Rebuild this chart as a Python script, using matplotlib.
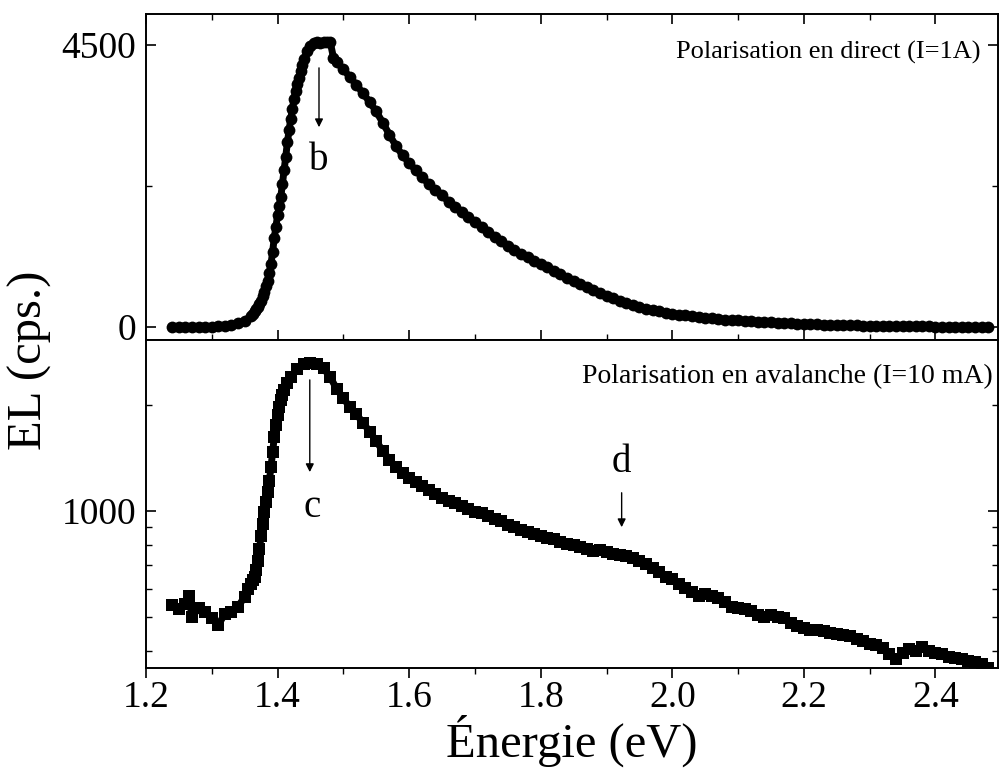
import matplotlib
matplotlib.use("Agg")
import matplotlib.pyplot as plt
from matplotlib.ticker import FixedLocator, MultipleLocator, NullFormatter

plt.rcParams['font.family'] = ['Liberation Serif', 'DejaVu Serif']

# Forward bias (I = 1 A), linear scale
e_direct = [1.24, 1.25, 1.26, 1.27, 1.28, 1.29, 1.30, 1.31, 1.32, 1.33, 1.34, 1.35,
            1.36, 1.3625, 1.365, 1.3675, 1.37, 1.3725, 1.375, 1.3775, 1.38, 1.3825,
            1.385, 1.3875, 1.39, 1.3925, 1.395, 1.3975, 1.40, 1.4025, 1.405, 1.4075,
            1.41, 1.4125, 1.415, 1.4175, 1.42, 1.4225, 1.425, 1.4275, 1.43, 1.4325,
            1.435, 1.4375, 1.44, 1.445, 1.45, 1.455, 1.46, 1.465, 1.47, 1.475, 1.48,
            1.485, 1.49, 1.50, 1.51, 1.52, 1.53, 1.54, 1.55, 1.56, 1.57, 1.58, 1.59,
            1.60, 1.61, 1.62, 1.63, 1.64, 1.65, 1.66, 1.67, 1.68, 1.69, 1.70, 1.71,
            1.72, 1.73, 1.74, 1.75, 1.76, 1.77, 1.78, 1.79, 1.80, 1.81, 1.82, 1.83,
            1.84, 1.85, 1.86, 1.87, 1.88, 1.89, 1.90, 1.91, 1.92, 1.93, 1.94, 1.95,
            1.96, 1.97, 1.98, 1.99, 2.00, 2.01, 2.02, 2.03, 2.04, 2.05, 2.06, 2.07,
            2.08, 2.09, 2.10, 2.11, 2.12, 2.13, 2.14, 2.15, 2.16, 2.17, 2.18, 2.19,
            2.20, 2.21, 2.22, 2.23, 2.24, 2.25, 2.26, 2.27, 2.28, 2.29, 2.30, 2.31,
            2.32, 2.33, 2.34, 2.35, 2.36, 2.37, 2.38, 2.39, 2.40, 2.41, 2.42, 2.43,
            2.44, 2.45, 2.46, 2.47, 2.48]
el_direct = [0, 0, 0, 0, 0, 0, 5, 10, 20, 35, 60, 100,
             180, 215, 250, 285, 320, 370, 420, 490, 560, 650,
             740, 860, 1000, 1200, 1420, 1600, 1780, 1930, 2080, 2290,
             2500, 2720, 2950, 3140, 3320, 3480, 3640, 3760, 3880, 3980,
             4080, 4180, 4270, 4400, 4480, 4530, 4550, 4540, 4545, 4555, 4550,
             4300, 4230, 4110, 3990, 3860, 3730, 3590, 3440, 3260, 3070, 2890, 2740,
             2620, 2500, 2390, 2280, 2190, 2100, 2000, 1920, 1830, 1750, 1670, 1590,
             1510, 1440, 1370, 1300, 1230, 1170, 1110, 1060, 1000, 950, 890, 840,
             790, 740, 690, 640, 590, 545, 500, 460, 420, 385, 350, 320,
             295, 270, 250, 230, 210, 198, 185, 172, 160, 150, 140, 130,
             120, 112, 105, 98, 92, 86, 80, 75, 70, 65, 60, 55,
             50, 46, 42, 38, 35, 32, 30, 27, 25, 22, 20, 19,
             18, 16, 15, 13, 12, 11, 10, 9, 8, 6, 5, 4,
             3, 2, 2, 1, 0]

# Avalanche bias (I = 10 mA), log scale
e_aval = [1.24, 1.25, 1.26, 1.265, 1.27, 1.28, 1.29, 1.30, 1.31, 1.32, 1.33, 1.34,
          1.35, 1.355, 1.36, 1.3625, 1.365, 1.3675, 1.37, 1.3725, 1.375, 1.3775,
          1.38, 1.3825, 1.385, 1.3875, 1.39, 1.3925, 1.395, 1.3975, 1.40, 1.4025,
          1.405, 1.4075, 1.41, 1.415, 1.42, 1.43, 1.44, 1.45, 1.46, 1.47, 1.48,
          1.49, 1.50, 1.51, 1.52, 1.53, 1.54, 1.55, 1.56, 1.57, 1.58, 1.59, 1.60,
          1.61, 1.62, 1.63, 1.64, 1.65, 1.66, 1.67, 1.68, 1.69, 1.70, 1.71, 1.72,
          1.73, 1.74, 1.75, 1.76, 1.77, 1.78, 1.79, 1.80, 1.81, 1.82, 1.83, 1.84,
          1.85, 1.86, 1.87, 1.88, 1.89, 1.90, 1.91, 1.92, 1.93, 1.94, 1.95, 1.96,
          1.97, 1.98, 1.99, 2.00, 2.01, 2.02, 2.03, 2.04, 2.05, 2.06, 2.07, 2.08,
          2.09, 2.10, 2.11, 2.12, 2.13, 2.14, 2.15, 2.16, 2.17, 2.18, 2.19, 2.20,
          2.21, 2.22, 2.23, 2.24, 2.25, 2.26, 2.27, 2.28, 2.29, 2.30, 2.31, 2.32,
          2.33, 2.34, 2.35, 2.36, 2.37, 2.38, 2.39, 2.40, 2.41, 2.42, 2.43, 2.44,
          2.45, 2.46, 2.47, 2.48]
el_aval = [540, 525, 545, 575, 500, 530, 515, 495, 475, 510, 515, 535,
           570, 600, 620, 635, 650, 680, 720, 780, 850, 920,
           990, 1060, 1130, 1220, 1330, 1470, 1620, 1750, 1870, 1970,
           2060, 2130, 2200, 2310, 2400, 2530, 2610, 2640, 2620, 2540, 2400,
           2220, 2090, 1970, 1880, 1780, 1680, 1580, 1480, 1400, 1330, 1280, 1240,
           1210, 1180, 1150, 1120, 1090, 1070, 1050, 1030, 1015, 995, 985, 965,
           950, 935, 915, 900, 885, 870, 860, 850, 840, 830, 815, 805,
           800, 790, 780, 770, 775, 765, 755, 750, 745, 735, 720, 705,
           690, 670, 650, 640, 620, 605, 590, 575, 580, 575, 565, 550,
           535, 530, 525, 520, 505, 500, 505, 500, 495, 480, 470, 465,
           460, 458, 455, 450, 448, 445, 440, 432, 428, 420, 415, 408,
           392, 380, 395, 405, 400, 410, 400, 395, 392, 385, 382, 380,
           375, 372, 368, 358]

fig = plt.figure(figsize=(9.99, 7.75), dpi=100)
ax1 = fig.add_axes([0.1461, 0.5613, 0.8529, 0.4206])
ax2 = fig.add_axes([0.1461, 0.1381, 0.8529, 0.4232], sharex=ax1)

ax1.plot(e_direct, el_direct, '-o', color='black', ms=8.5, mew=0, lw=5)
ax2.plot(e_aval, el_aval, '-s', color='black', ms=8, mew=0, lw=5)

ax1.set_xlim(1.2, 2.495)
ax1.set_ylim(-207, 4995)
ax1.yaxis.set_major_locator(FixedLocator([0, 4500]))
ax1.yaxis.set_minor_locator(FixedLocator([2250]))

ax2.set_yscale('log')
ax2.set_ylim(358, 3060)
ax2.yaxis.set_major_locator(FixedLocator([1000]))
ax2.yaxis.set_minor_locator(FixedLocator([400, 500, 600, 700, 800, 900, 2000]))
ax2.yaxis.set_major_formatter(matplotlib.ticker.FuncFormatter(lambda v, p: f"{v:.0f}"))
ax2.yaxis.set_minor_formatter(NullFormatter())

ax2.xaxis.set_major_locator(MultipleLocator(0.2))
ax2.xaxis.set_minor_locator(MultipleLocator(0.1))
ax2.xaxis.set_major_formatter(matplotlib.ticker.FormatStrFormatter('%.1f'))

for ax in (ax1, ax2):
    for s in ax.spines.values():
        s.set_linewidth(1.4)
    ax.tick_params(which='major', length=7, width=1.2, labelsize=27, pad=7)
    ax.tick_params(which='minor', length=4, width=1.0)
    ax.tick_params(axis='y', which='both', direction='in', right=True)

ax1.tick_params(axis='x', which='both', direction='in', top=True, bottom=True,
                labelbottom=False)
ax2.tick_params(axis='x', which='both', direction='out', top=False, pad=2)

ax1.text(0.979, 0.883, 'Polarisation en direct (I=1A)', transform=ax1.transAxes,
         ha='right', va='center', fontsize=19)
ax2.text(0.994, 0.887, 'Polarisation en avalanche (I=10 mA)', transform=ax2.transAxes,
         ha='right', va='center', fontsize=20)

arrow = dict(arrowstyle='-|>', color='black', lw=1.0, mutation_scale=12)
ax1.annotate('', xy=(1.463, 3144), xytext=(1.463, 4180), arrowprops=arrow)
ax1.text(1.463, 2665, 'b', ha='center', va='center', fontsize=28)
ax2.annotate('', xy=(1.449, 1266), xytext=(1.449, 2400), arrowprops=arrow)
ax2.text(1.452, 1020, 'c', ha='center', va='center', fontsize=28)
ax2.annotate('', xy=(1.923, 883), xytext=(1.923, 1147), arrowprops=arrow)
ax2.text(1.923, 1369, 'd', ha='center', va='center', fontsize=28)

ax2.set_xlabel('Énergie (eV)', fontsize=35, labelpad=0)
fig.text(30 / 999, 1 - 360 / 775, 'EL (cps.)', rotation=90, ha='center', va='center',
         fontsize=35)

fig.savefig('out.png', dpi=100)
